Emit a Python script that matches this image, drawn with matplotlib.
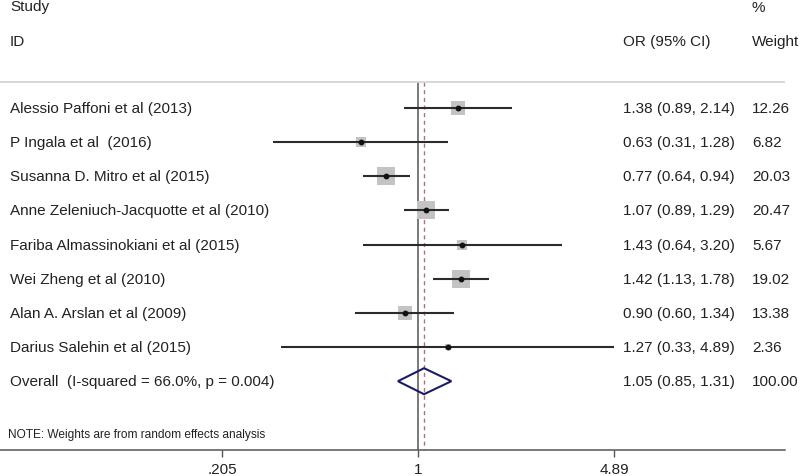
import matplotlib
matplotlib.use('Agg')
import matplotlib.pyplot as plt
import numpy as np
from matplotlib.patches import Polygon

plt.rcParams['font.family'] = ['Liberation Sans', 'DejaVu Sans']

# Study data
studies = [
    'Alessio Paffoni et al (2013)',
    'P Ingala et al  (2016)',
    'Susanna D. Mitro et al (2015)',
    'Anne Zeleniuch-Jacquotte et al (2010)',
    'Fariba Almassinokiani et al (2015)',
    'Wei Zheng et al (2010)',
    'Alan A. Arslan et al (2009)',
    'Darius Salehin et al (2015)',
]
or_vals = [1.38, 0.63, 0.77, 1.07, 1.43, 1.42, 0.90, 1.27]
ci_low = [0.89, 0.31, 0.64, 0.89, 0.64, 1.13, 0.60, 0.33]
ci_high = [2.14, 1.28, 0.94, 1.29, 3.20, 1.78, 1.34, 4.89]
weights = [12.26, 6.82, 20.03, 20.47, 5.67, 19.02, 13.38, 2.36]

overall_label = 'Overall  (I-squared = 66.0%, p = 0.004)'
overall_or = 1.05
overall_low = 0.85
overall_high = 1.31
overall_weight = 100.00

tick_vals = [0.205, 1, 4.89]
tick_labels = ['.205', '1', '4.89']

# layout (pixels from the top of the axes)
W, H = 800, 477
ax_w, ax_h = 785, 451
px_per_ln = 123.5
x_one = 418
header_line_y = 83
row0_y, row_step = 109, 34.15
text_col = '#222222'
fs = 11

fig = plt.figure(figsize=(W / 100, H / 100), dpi=100)
ax = fig.add_axes([0, (H - ax_h) / H, ax_w / W, ax_h / H])
ax.set_xscale('log')
ax.set_xlim(np.exp(-x_one / px_per_ln), np.exp((ax_w - x_one) / px_per_ln))
ax.set_ylim(ax_h, 0)

for s in ['top', 'right', 'left']:
    ax.spines[s].set_visible(False)
ax.spines['bottom'].set_color('#555555')
ax.spines['bottom'].set_linewidth(1.1)
ax.set_yticks([])
ax.set_xticks(tick_vals)
ax.set_xticklabels(tick_labels)
ax.xaxis.set_minor_locator(matplotlib.ticker.NullLocator())
ax.tick_params(axis='x', direction='out', length=5, width=1, color='#555555',
               labelsize=fs, labelcolor=text_col, pad=3.5)

tr = ax.get_yaxis_transform()

def col(px):
    return px / ax_w

# header
ax.text(col(10), 7, 'Study', transform=tr, fontsize=fs, va='center', color=text_col)
ax.text(col(10), 42, 'ID', transform=tr, fontsize=fs, va='center', color=text_col)
ax.text(col(623), 42, 'OR (95% CI)', transform=tr, fontsize=fs, va='center', color=text_col)
ax.text(col(752), 8, '%', transform=tr, fontsize=fs, va='center', color=text_col)
ax.text(col(752), 42, 'Weight', transform=tr, fontsize=fs, va='center', color=text_col)
ax.axhline(header_line_y, color='#d4d4d4', lw=1.3)

# reference lines
ax.vlines(1, header_line_y, ax_h, color='#555555', lw=1.1, zorder=1)
ax.vlines(overall_or, header_line_y, ax_h, color='#b5707a', lw=1.0,
          linestyles=(0, (3, 2.5)), zorder=1)

# studies
ys = [row0_y + row_step * i for i in range(len(studies))]
for name, o, lo, hi, w, y in zip(studies, or_vals, ci_low, ci_high, weights, ys):
    side_px = 4.09 * np.sqrt(w)
    ax.plot([o], [y], marker='s', ms=side_px * 0.72, color='#c3c3c3',
            markeredgewidth=0, zorder=2)
    ax.plot([lo, hi], [y, y], color='#2b2b2b', lw=1.5, zorder=3,
            solid_capstyle='butt')
    ax.plot([o], [y], marker='o', ms=3.2, color='#111111', zorder=4)
    ax.text(col(10), y, name, transform=tr, fontsize=fs, va='center', color=text_col)
    ax.text(col(623), y, f'{o:.2f} ({lo:.2f}, {hi:.2f})', transform=tr,
            fontsize=fs, va='center', color=text_col)
    ax.text(col(752), y, f'{w:.2f}', transform=tr, fontsize=fs, va='center',
            color=text_col)

# overall diamond
oy = row0_y + row_step * len(studies)
half = 13
diamond = Polygon([[overall_low, oy], [overall_or, oy - half],
                   [overall_high, oy], [overall_or, oy + half]],
                  closed=True, fill=False, edgecolor='#1c1c66', lw=1.5, zorder=5)
ax.add_patch(diamond)
ax.text(col(10), oy, overall_label, transform=tr, fontsize=fs, va='center', color=text_col)
ax.text(col(623), oy, f'{overall_or:.2f} ({overall_low:.2f}, {overall_high:.2f})',
        transform=tr, fontsize=fs, va='center', color=text_col)
ax.text(col(752), oy, f'{overall_weight:.2f}', transform=tr, fontsize=fs,
        va='center', color=text_col)

ax.text(col(8), 435, 'NOTE: Weights are from random effects analysis', transform=tr,
        fontsize=8.6, va='center', color=text_col, fontstretch='condensed')

fig.savefig('out.png', dpi=100)
